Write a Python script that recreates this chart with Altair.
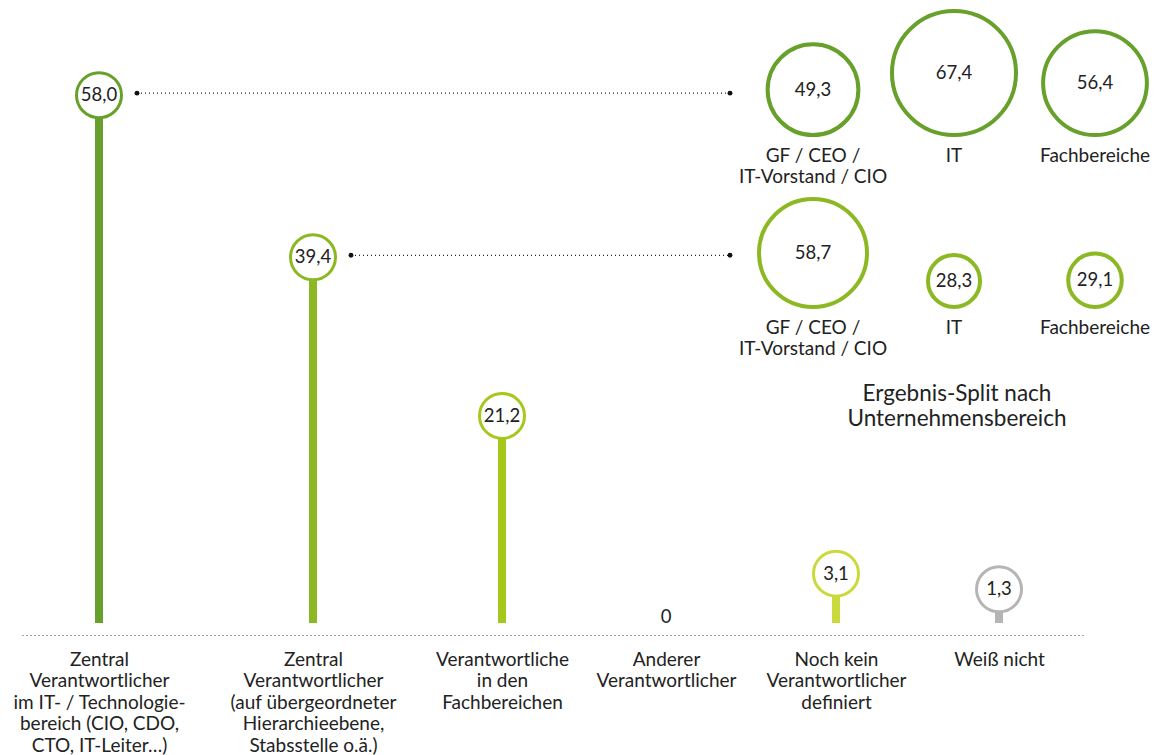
import altair as alt
import pandas as pd

# ---------------- data ----------------
cat_keys = ["zentral_it", "zentral_hier", "fach", "anderer", "nochkein", "weissnicht"]
cat_labels = [
    "Zentral|Verantwortlicher|im IT- / Technologie-|bereich (CIO, CDO,|CTO, IT-Leiter…)",
    "Zentral|Verantwortlicher|(auf übergeordneter|Hierarchieebene,|Stabsstelle o.ä.)",
    "Verantwortliche|in den|Fachbereichen",
    "Anderer|Verantwortlicher",
    "Noch kein|Verantwortlicher|definiert",
    "Weiß nicht",
]
cat_values = [58.0, 39.4, 21.2, 0.0, 3.1, 1.3]
cat_colors = ["#67a02a", "#8cb923", "#a6c81d", "#a6c81d", "#cad93c", "#b5b5b5"]

split_labels = ["GF / CEO /\nIT-Vorstand / CIO", "IT", "Fachbereiche"]
split_row1 = [49.3, 67.4, 56.4]   # linked to "Zentral Verantwortlicher im IT-/Technologiebereich"
split_row2 = [58.7, 28.3, 29.1]   # linked to "Zentral Verantwortlicher (übergeordnete Ebene)"
row_colors = ["#67a02a", "#8cb923"]

split_title = "Ergebnis-Split nach\nUnternehmensbereich"

FONT = "Lato"
TXT = "#222222"
FS = 19
FSV = 18.5

# ---------------- tables ----------------
df_main = pd.DataFrame({
    "idx": list(range(len(cat_keys))),
    "key": cat_keys,
    "value": cat_values,
})
df_conn = df_main.iloc[:2].copy()

df_r1 = pd.DataFrame({"bidx": [0, 1, 2], "label": split_labels, "value": split_row1})
df_r2 = pd.DataFrame({"bidx": [0, 1, 2], "label": split_labels, "value": split_row2})

# ---------------- main lollipop ----------------
labels_js = "[" + ",".join("'" + l + "'" for l in cat_labels) + "]"
xscale = alt.Scale(domain=[-1, 0, 1, 2, 3, 4, 5, 6],
                   range=[0, 77, 291, 480, 644, 814, 977, 1063],
                   nice=False, zero=False)
xaxis = alt.Axis(
    values=[0, 1, 2, 3, 4, 5], labelExpr=f"split({labels_js}[datum.value], '|')",
    title=None, grid=False, ticks=False, domain=True, domainDash=[1, 3],
    domainColor="#444444", domainWidth=1.2, labelFontSize=FS, labelFont=FONT,
    labelColor=TXT, labelPadding=15, labelLineHeight=21.5, labelAngle=0,
    labelBaseline="top", labelLimit=0, labelOverlap=False, labelAlign="center",
)
yscale = alt.Scale(domain=[-3.94, 68.92], nice=False, zero=False)

X = alt.X("idx:Q", scale=xscale, axis=xaxis)
Y = alt.Y("value:Q", scale=yscale, axis=None)
stroke_enc = alt.Stroke("key:N", scale=alt.Scale(domain=cat_keys, range=cat_colors), legend=None)

base = alt.Chart(df_main).transform_calculate(
    label="datum.value == 0 ? '0' : replace(format(datum.value, '.1f'), '.', ',')"
)

stems = base.transform_filter("datum.value > 0").mark_rule(strokeWidth=8, strokeCap="butt").encode(
    x=X, y=Y, y2=alt.Y2Datum(-2.56), stroke=stroke_enc
)
circles = base.transform_filter("datum.value > 0").mark_circle(
    fill="white", strokeWidth=3, size=2025, opacity=1
).encode(x=X, y=Y, stroke=stroke_enc)
values = base.transform_filter("datum.value > 0").mark_text(
    font=FONT, fontSize=FSV, color=TXT
).encode(x=X, y=Y, text="label:N")
zero = base.transform_filter("datum.value == 0").mark_text(
    font=FONT, fontSize=FSV, color=TXT, dy=16
).encode(x=X, y=Y, text="label:N")

conn = alt.Chart(df_conn).mark_rule(
    strokeDash=[1, 3], color="#222222", strokeWidth=1.3, xOffset=38, yOffset=-2
).encode(x=X, x2=alt.value(708), y=Y)
dot_a = alt.Chart(df_conn).mark_circle(size=24, color="#111111", opacity=1, xOffset=38, yOffset=-2).encode(x=X, y=Y)
dot_b = alt.Chart(df_conn).mark_circle(size=24, color="#111111", opacity=1, yOffset=-2).encode(
    x=alt.value(708), y=Y
)

main = alt.layer(stems, circles, values, zero, conn, dot_a, dot_b)

# ---------------- bubble rows ----------------
def bubble_row(df, color, y_bottom):
    bx = alt.X("bidx:Q", scale=alt.Scale(domain=[0, 2], range=[791, 1073], nice=False, zero=False), axis=None)
    ys = alt.Scale(domain=[0, 100], range=[y_bottom, y_bottom - 92], nice=False, zero=False)
    by = alt.Y("value:Q", scale=ys, axis=None)
    # Vega circle radius = sqrt(size)/2  ->  radius 0.92 px per unit
    size = alt.Size("value:Q", scale=alt.Scale(type="pow", exponent=2, domain=[0, 100], range=[0, 33856]), legend=None)
    b = alt.Chart(df).transform_calculate(
        vlabel="replace(format(datum.value, '.1f'), '.', ',')"
    )
    ring = b.mark_circle(fill="white", stroke=color, strokeWidth=4, opacity=1).encode(x=bx, y=by, size=size)
    txt = b.mark_text(font=FONT, fontSize=FSV, color=TXT).encode(x=bx, y=by, text="vlabel:N")
    lab = b.mark_text(font=FONT, fontSize=FS, color=TXT, baseline="top", dy=12,
                      lineBreak="\n", lineHeight=21).encode(
        x=bx, y=alt.YDatum(0, scale=ys, axis=None), text="label:N"
    )
    return alt.layer(ring, txt, lab)

row1 = bubble_row(df_r1, row_colors[0], 135)
row2 = bubble_row(df_r2, row_colors[1], 307)

title = alt.Chart(pd.DataFrame({"t": [split_title]})).mark_text(
    font=FONT, fontSize=22.5, color=TXT, baseline="alphabetic", align="center",
    lineBreak="\n", lineHeight=25
).encode(x=alt.value(935), y=alt.value(401), text="t:N")

chart = alt.layer(main, row1, row2, title).resolve_scale(
    x="independent", y="independent", size="independent", stroke="independent"
).properties(
    width=1063, height=635,
    autosize=alt.AutoSizeParams(type="none"),
    padding={"left": 22, "top": 0, "right": 72, "bottom": 120},
).configure_view(stroke=None)

chart.save("out.html", embed_options={"renderer": "svg", "actions": False})
